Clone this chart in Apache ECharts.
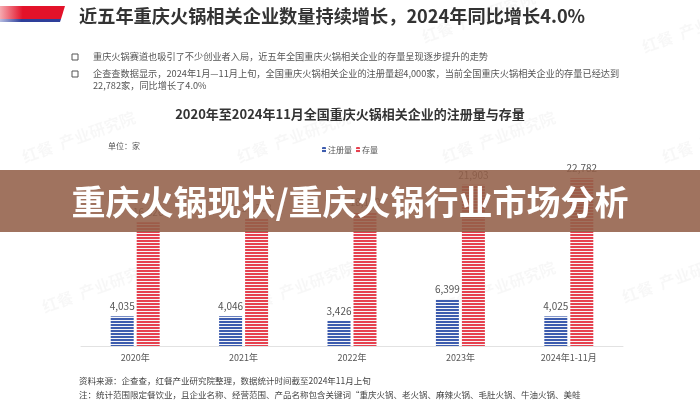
<!DOCTYPE html>
<html><head><meta charset="utf-8">
<script src="https://cdn.jsdelivr.net/npm/echarts@6/dist/echarts.min.js"></script>
<style>html,body{margin:0;padding:0;background:#fff}#c{width:700px;height:400px}</style>
</head><body><div id="c"></div>
<script>
const categories = ['2020年', '2021年', '2022年', '2023年', '2024年1-11月'];
const registered = [4035, 4046, 3426, 6399, 4025];
const stock = [16826, 17368, 18180, 21903, 22782];
const seriesNames = ['注册量', '存量'];

const FONT = '"Noto Sans CJK SC", "Noto Sans", sans-serif';

function stripe(color) {
  const c = document.createElement('canvas');
  c.width = 4; c.height = 3;
  const g = c.getContext('2d');
  g.fillStyle = '#f6f6f8'; g.fillRect(0, 0, 4, 3);
  g.fillStyle = color; g.fillRect(0, 0, 4, 2);
  return c;
}
const blueFill = { image: stripe('#3d5cae'), repeat: 'repeat' };
const redFill = { image: stripe('#e6414f'), repeat: 'repeat' };

const fmt = p => Number(p.value).toLocaleString('en-US');

const chart = echarts.init(document.getElementById('c'), null, { renderer: 'canvas' });

const txt = (x, y, text, size, color, weight, align) => ({
  type: 'text', x: x, y: y,
  style: { text: text, fontSize: size, fill: color, fontWeight: weight || 'normal', fontFamily: FONT, textVerticalAlign: 'middle', textAlign: align || 'left' }
});

const box = (x, y) => ({ type: 'rect', shape: { x: x, y: y - 3, width: 6, height: 6 }, style: { fill: '#fff', stroke: '#555', lineWidth: 1 } });

const watermarks = [[20, 150], [235, 150], [440, 150], [640, 40], [660, 150], [240, 300], [440, 300], [620, 290], [40, 300], [420, 30]].map(p => ({
  type: 'text', x: p[0], y: p[1], rotation: 0.35, z: 1,
  style: { text: '红餐  产业研究院', fontSize: 16, fill: 'rgba(0,0,0,0.03)', fontWeight: 'bold', fontFamily: FONT }
}));

chart.setOption({
  animation: false,
  textStyle: { fontFamily: FONT },
  grid: { left: 81, right: 77, top: 162, bottom: 54, containLabel: false },
  legend: {
    data: seriesNames, left: 'center', top: 141,
    itemWidth: 4, itemHeight: 6, itemGap: 4,
    textStyle: { fontSize: 8, color: '#555', padding: [0, 0, 0, -3] }
  },
  xAxis: {
    type: 'category', data: categories,
    axisLine: { lineStyle: { color: '#e2e2e2', width: 1 } },
    axisTick: { show: false },
    axisLabel: { fontSize: 9, color: '#555', margin: 7 }
  },
  yAxis: {
    type: 'value', min: 0, max: 25000,
    show: false, splitLine: { show: false }
  },
  graphic: [
    ...watermarks,
    {
      type: 'polygon', shape: { points: [[0, 6], [65, 6], [61, 19], [0, 19]] },
      style: { fill: new echarts.graphic.LinearGradient(0, 0, 1, 0, [{ offset: 0, color: '#f6aab0' }, { offset: 0.35, color: '#e3122a' }, { offset: 1, color: '#e3122a' }]) }
    },
    {
      type: 'polygon', shape: { points: [[0, 19], [61, 19], [60, 22], [0, 22]] },
      style: { fill: new echarts.graphic.LinearGradient(0, 0, 1, 0, [{ offset: 0, color: '#b6bce0' }, { offset: 0.35, color: '#2e3f9a' }, { offset: 1, color: '#2e3f9a' }]) }
    },
    txt(79, 16, '近五年重庆火锅相关企业数量持续增长，2024年同比增长4.0%', 18.2, '#333', 'bold'),
    box(72, 57),
    txt(93, 57, '重庆火锅赛道也吸引了不少创业者入局，近五年全国重庆火锅相关企业的存量呈现逐步提升的走势', 9.2, '#555'),
    box(72, 74),
    txt(93, 74, '企查查数据显示，2024年1月—11月上旬，全国重庆火锅相关企业的注册量超4,000家，当前全国重庆火锅相关企业的存量已经达到', 9.2, '#555'),
    txt(93, 86, '22,782家，同比增长了4.0%', 9.2, '#555'),
    txt(350, 114, '2020年至2024年11月全国重庆火锅相关企业的注册量与存量', 13, '#333', 'bold', 'center'),
    txt(108, 146, '单位：家', 8, '#555'),
    txt(79, 381, '资料来源：企查查，红餐产业研究院整理，数据统计时间截至2024年11月上旬', 8.5, '#444'),
    txt(79, 395, '注：统计范围限定餐饮业，且企业名称、经营范围、产品名称包含关键词“重庆火锅、老火锅、麻辣火锅、毛肚火锅、牛油火锅、美蛙', 8.5, '#444'),
    {
      type: 'rect', z: 100, shape: { x: 0, y: 170, width: 700, height: 62 },
      style: { fill: 'rgba(147,96,73,0.88)' }
    },
    {
      type: 'text', z: 101, x: 350, y: 202,
      style: {
        text: '重庆火锅现状/重庆火锅行业市场分析', fontSize: 34, fontWeight: 'bold', fill: '#fff',
        fontFamily: FONT, textAlign: 'center', textVerticalAlign: 'middle',
        shadowBlur: 3, shadowColor: 'rgba(0,0,0,0.35)', shadowOffsetX: 1, shadowOffsetY: 1
      }
    }
  ],
  series: [
    {
      name: seriesNames[0], type: 'bar', data: registered, barWidth: 23, barGap: '13%',
      itemStyle: { color: blueFill },
      label: { show: true, position: 'top', distance: 5, fontSize: 10, color: '#555', formatter: fmt }
    },
    {
      name: seriesNames[1], type: 'bar', data: stock, barWidth: 23,
      itemStyle: { color: redFill },
      label: { show: true, position: 'top', distance: 5, fontSize: 10, color: '#555', formatter: fmt }
    }
  ]
});
</script>
</body></html>
